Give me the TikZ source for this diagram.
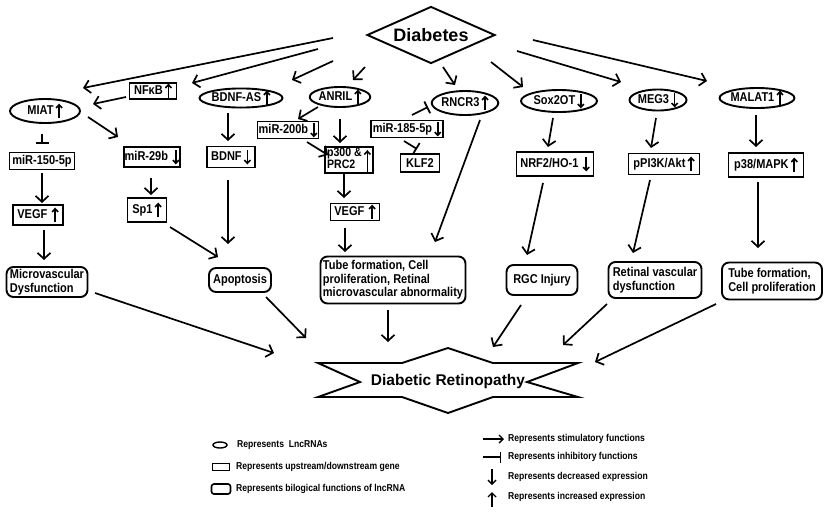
\documentclass[tikz,border=0pt]{standalone}
\usepackage{fontspec}
\setmainfont{Liberation Sans}[FakeStretch=0.86]
\newfontfamily\titlefont{Liberation Sans}
\usepackage{pict2e}
\usepackage{tikz}
\usetikzlibrary{positioning,arrows.meta,calc,shapes.geometric}
\newcommand\nodefont{\bfseries\fontsize{12.8}{13.4}\selectfont}
\newcommand\legfont{\bfseries\fontsize{10}{12}\selectfont}
\tikzset{
  lncnode/.style={ellipse, draw, line width=1.9pt, inner sep=0pt, font=\nodefont},
  genebox/.style={draw, line width=1.9pt, inner sep=1pt, font=\nodefont},
  funcbox/.style={draw, rounded corners=7pt, line width=1.9pt, inner sep=2pt,
    align=left, font=\nodefont},
  actarrow/.style={-{Straight Barb[length=6pt,width=13pt]}, line width=1.7pt},
  inharrow/.style={-{Bar[width=13pt]}, line width=1.7pt},
  legarrow/.style={-{Straight Barb[length=4pt,width=8pt]}, line width=1.4pt},
  leginh/.style={-{Bar[width=11pt]}, line width=1.4pt},
  legtext/.style={anchor=west, inner sep=0pt, font=\legfont},
}
% up / down expression marks inside the labels
\newcommand\upar{\,\raisebox{-3pt}{\setlength\unitlength{1pt}\begin{picture}(7,13.5)
  \linethickness{1.6pt}\put(3.5,0){\line(0,1){13}}\polyline(0.5,9.8)(3.5,13)(6.5,9.8)\end{picture}}}
\newcommand\dnar{\,\raisebox{-3pt}{\setlength\unitlength{1pt}\begin{picture}(7,13.5)
  \linethickness{1.6pt}\put(3.5,13.5){\line(0,-1){13}}\polyline(0.5,3.7)(3.5,0.5)(6.5,3.7)\end{picture}}}
\newcommand\tallupar{\,\raisebox{-9pt}{\setlength\unitlength{1pt}\begin{picture}(7,21)
  \linethickness{1.6pt}\put(3.5,0){\line(0,1){20.5}}\polyline(0.5,17.3)(3.5,20.5)(6.5,17.3)\end{picture}}}

\begin{document}
\begin{tikzpicture}[x=1pt, y=-1pt]
  \path[use as bounding box, fill=white] (0,0) rectangle (827,523);
  % top
  \node[diamond, draw, line width=1.9pt, aspect=2.2, minimum width=128pt,
    minimum height=57pt, inner sep=0pt, font=\titlefont\bfseries\fontsize{18}{20}\selectfont]
    (diab) at (431,35) {Diabetes};
  % lncRNAs
  \node[lncnode, minimum width=70pt, minimum height=24pt] (miat) at (45,111) {MIAT\upar};
  \node[genebox, minimum width=47pt, minimum height=16pt] (nfkb) at (153,91) {NFκB\upar};
  \node[lncnode, minimum width=74pt, minimum height=16pt] (bdnfas) at (241,98) {BDNF-AS\upar};
  \node[lncnode, minimum width=56pt, minimum height=20pt] (anril) at (340,97) {ANRIL\upar};
  \node[lncnode, minimum width=58pt, minimum height=24pt] (rncr3) at (465,103) {RNCR3\upar};
  \node[lncnode, minimum width=76pt, minimum height=22pt] (sox) at (559,101) {Sox2OT\dnar};
  \node[lncnode, minimum width=57pt, minimum height=21pt] (meg3) at (658,100) {MEG3\dnar};
  \node[lncnode, minimum width=71pt, minimum height=20pt] (malat) at (757,98) {MALAT1\upar};
  % genes
  \node[genebox, minimum width=65pt, minimum height=17pt] (mir150) at (42,161) {miR-150-5p};
  \node[genebox, minimum width=52pt, minimum height=20pt] (mir29b) at (152,157) {miR-29b\,\dnar};
  \node[genebox, minimum width=48pt, minimum height=21pt] (bdnf) at (231,157) {BDNF\dnar};
  \node[genebox, minimum width=61pt, minimum height=17pt] (mir200b) at (288,130) {miR-200b\dnar};
  \node[genebox, minimum width=48pt, minimum height=26pt, inner sep=1pt] (p300) at (349,160)
    {\fontsize{12.3}{12}\selectfont\renewcommand\arraystretch{0.8}\begin{tabular}{@{}l@{}}p300 \&\\PRC2\end{tabular}\tallupar};
  \node[genebox, minimum width=72pt, minimum height=17pt] (mir185) at (407,129) {miR-185-5p\dnar};
  \node[genebox, minimum width=39pt, minimum height=18pt] (klf2) at (420,163) {KLF2};
  \node[genebox, minimum width=77pt, minimum height=24pt] (nrf2) at (555,164) {NRF2/HO-1\,\dnar};
  \node[genebox, minimum width=71pt, minimum height=21pt] (pi3k) at (664,164) {pPI3K/Akt\upar};
  \node[genebox, minimum width=75pt, minimum height=24pt] (p38) at (766,165) {p38/MAPK\upar};
  \node[genebox, minimum width=50pt, minimum height=20pt] (vegfa) at (38,215) {VEGF\,\upar};
  \node[genebox, minimum width=39pt, minimum height=24pt] (sp1) at (147,210) {Sp1\upar};
  \node[genebox, minimum width=49pt, minimum height=17pt] (vegfb) at (355,212) {VEGF\,\upar};
  % functions
  \node[funcbox, minimum width=81pt, minimum height=30pt] (micro) at (47,282) {Microvascular\\Dysfunction};
  \node[funcbox, minimum width=62pt, minimum height=24pt] (apop) at (240,280) {Apoptosis};
  \node[funcbox, minimum width=145pt, minimum height=47pt] (tube) at (393,280)
    {Tube formation, Cell\\proliferation, Retinal\\microvascular abnormality};
  \node[funcbox, minimum width=71pt, minimum height=30pt] (rgc) at (542,280) {RGC Injury};
  \node[funcbox, minimum width=93pt, minimum height=36pt] (retvas) at (655,280) {Retinal vascular\\dysfunction};
  \node[funcbox, minimum width=100pt, minimum height=37pt] (tube2) at (772,281) {Tube formation,\\Cell proliferation};
  % outcome
  \node[font=\titlefont\bfseries\fontsize{15.5}{17}\selectfont] (dr) at (448,381) {Diabetic Retinopathy};
  \begin{scope}[shift={(dr.center)}]
    \draw[line width=1.9pt] (-130,-18) -- (-46,-18) -- (0,-33) -- (45,-18) -- (130,-18)
      -- (79,1) -- (130,16) -- (45,16) -- (0,32) -- (-46,16) -- (-130,16) -- (-88,1) -- cycle;
  \end{scope}
  % from diabetes
  \draw[actarrow] ($(diab)+(-98,3)$) -- ($(miat)+(38,-23)$);
  \draw[actarrow] ($(diab)+(-113,14)$) -- ($(nfkb)+(39,-8)$);
  \draw[actarrow] ($(diab)+(-98,26)$) -- ($(bdnfas)+(51,-18)$);
  \draw[actarrow] ($(diab)+(-66,32)$) -- ($(anril)+(13,-17)$);
  \draw[actarrow] ($(diab)+(12,32)$) -- ($(rncr3)+(-10,-18)$);
  \draw[actarrow] ($(diab)+(60,27)$) -- ($(sox)+(-36,-14)$);
  \draw[actarrow] ($(diab)+(86,16)$) -- ($(meg3)+(-37,-18)$);
  \draw[actarrow] ($(diab)+(102,5)$) -- ($(malat)+(-50,-17)$);
  % lncRNA level
  \draw[actarrow] ($(nfkb)+(-27,6)$) -- ($(miat)+(48,-7)$);
  \draw[actarrow] ($(miat)+(43,6)$) -- ($(mir29b)+(-34,-20)$);
  \draw[inharrow] ($(miat.south)+(-3,10)$) -- ($(mir150.north)+(0,-8)$);
  \draw[actarrow] ($(bdnfas)+(-13,15)$) -- ($(bdnf)+(-3,-16)$);
  \draw[actarrow] ($(anril)+(-22,10)$) -- ($(mir200b)+(10,-11)$);
  \draw[actarrow] ($(anril)+(0,22)$) -- ($(p300)+(-9,-17)$);
  \draw[actarrow] ($(mir200b)+(19,12)$) -- ($(p300)+(-21,-5)$);
  \draw[inharrow] ($(mir185)+(5,-14)$) -- ($(rncr3)+(-37,4)$);
  \draw[inharrow] ($(mir185)+(-3,12)$) -- ($(klf2)+(-3,-14)$);
  \draw[actarrow] ($(p300)+(-5,13)$) -- ($(vegfb)+(-11,-14)$);
  \draw[actarrow] ($(rncr3)+(15,17)$) -- ($(tube)+(42,-38)$);
  \draw[actarrow] ($(sox)+(-6,17)$) -- ($(nrf2)+(-7,-17)$);
  \draw[actarrow] ($(meg3)+(-2,18)$) -- ($(pi3k)+(-13,-16)$);
  \draw[actarrow] ($(malat)+(-1,17)$) -- ($(p38)+(-10,-18)$);
  % gene level
  \draw[actarrow] ($(mir150)+(0,12)$) -- ($(vegfa)+(4,-12)$);
  \draw[actarrow] ($(vegfa)+(6,15)$) -- ($(micro)+(-3,-22)$);
  \draw[actarrow] ($(mir29b)+(-1,21)$) -- ($(sp1)+(4,-15)$);
  \draw[actarrow] ($(sp1)+(23,17)$) -- ($(apop)+(-22,-23)$);
  \draw[actarrow] ($(bdnf)+(-3,23)$) -- ($(apop)+(-12,-36)$);
  \draw[actarrow] ($(vegfb)+(-10,16)$) -- ($(tube)+(-48,-28)$);
  \draw[actarrow] ($(nrf2)+(-12,19)$) -- ($(rgc)+(-15,-25)$);
  \draw[actarrow] ($(pi3k)+(-14,16)$) -- ($(retvas)+(-22,-27)$);
  \draw[actarrow] ($(p38)+(-8,17)$) -- ($(tube2)+(-14,-33)$);
  % into retinopathy
  \draw[actarrow] ($(micro)+(48,11)$) -- ($(dr)+(-174,-28)$);
  \draw[actarrow] ($(apop)+(26,17)$) -- ($(dr)+(-142,-43)$);
  \draw[actarrow] ($(tube)+(-5,30)$) -- ($(dr)+(-60,-39)$);
  \draw[actarrow] ($(rgc)+(-21,25)$) -- ($(dr)+(45,-34)$);
  \draw[actarrow] ($(retvas)+(-48,24)$) -- ($(dr)+(115,-36)$);
  \draw[actarrow] ($(tube2)+(-56,23)$) -- ($(dr)+(147,-19)$);
  % legend
  \node[ellipse, draw, line width=1.4pt, minimum width=14pt, minimum height=6pt, inner sep=0pt] (lgell) at (220,445) {};
  \node[legtext] (lgelltxt) at (237,445) {Represents\ \ LncRNAs};
  \node[draw, line width=1.4pt, minimum width=17pt, minimum height=7pt, inner sep=0pt] (lgbox) at (221,467) {};
  \node[legtext] (lgboxtxt) at (236,467) {Represents upstream/downstream gene};
  \node[draw, rounded corners=2.5pt, line width=1.6pt, minimum width=19pt, minimum height=10pt, inner sep=0pt] (lgfunc) at (221,489) {};
  \node[legtext] (lgfunctxt) at (236,489) {Represents bilogical functions of lncRNA};
  \node[legtext] (lgstim) at (508,439) {Represents stimulatory functions};
  \node[legtext] (lginh) at (508,457) {Represents inhibitory functions};
  \node[legtext] (lgdec) at (508,477) {Represents decreased expression};
  \node[legtext] (lginc) at (508,497) {Represents increased expression};
  \draw[legarrow] ($(lgstim.west)+(-25,0)$) -- ($(lgstim.west)+(-4,0)$);
  \draw[leginh] ($(lginh.west)+(-25,0)$) -- ($(lginh.west)+(-7,0)$);
  \draw[legarrow] ($(lgdec.west)+(-16,-8)$) -- ($(lgdec.west)+(-16,8)$);
  \draw[legarrow] ($(lginc.west)+(-16,10)$) -- ($(lginc.west)+(-16,-5)$);
\end{tikzpicture}
\end{document}
